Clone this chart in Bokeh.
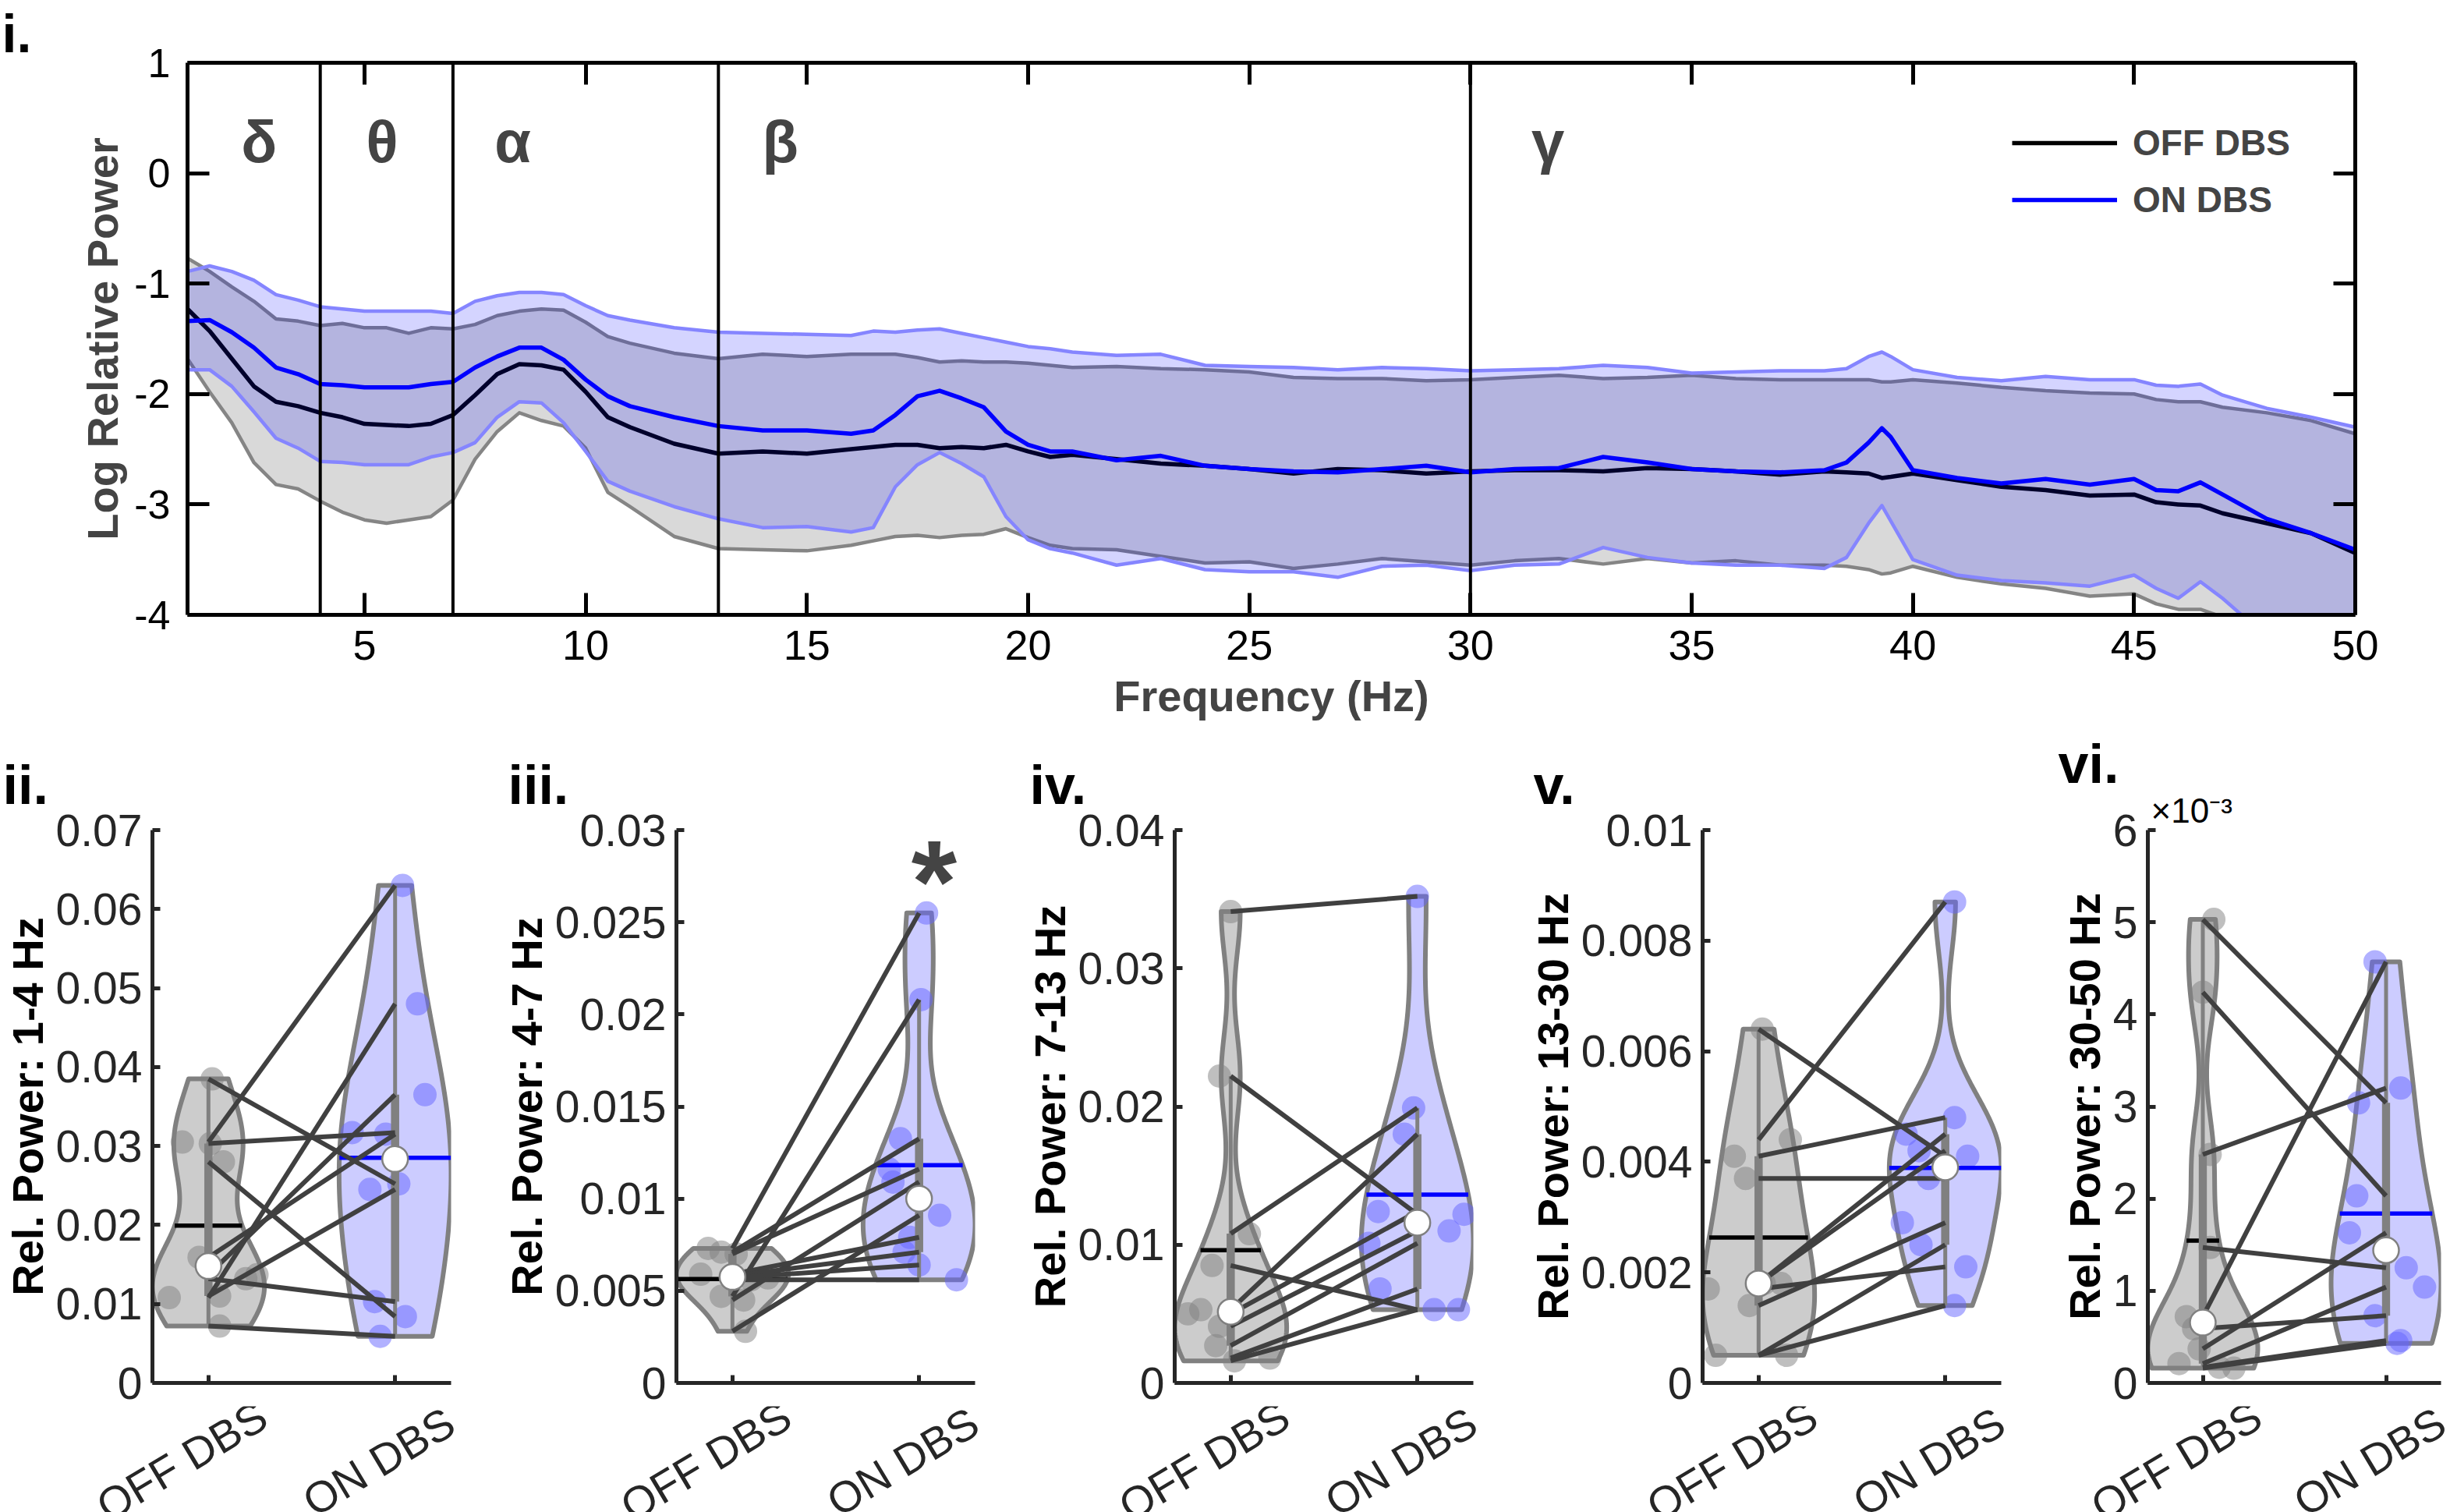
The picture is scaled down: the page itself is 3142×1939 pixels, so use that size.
import numpy as np
from bokeh.plotting import figure
from bokeh.models import Range1d, LinearAxis, FixedTicker, Label, Legend, LegendItem, Span, Title
from bokeh.core.properties import value
from bokeh.layouts import column, row
from bokeh.embed import file_html
from bokeh.resources import INLINE

FONT = "Liberation Sans"
INK = "#262626"

# ---------------- panel i: spectra ----------------
freq = [1.0, 1.5, 2.0, 2.5, 3.0, 3.5, 4.0, 4.5, 5.0, 5.5, 6.0, 6.5, 7.0, 7.5, 8.0, 8.5, 9.0, 9.5, 10.0, 10.5,
        11, 12, 13, 14, 15, 16, 16.5, 17, 17.5, 18, 18.5, 19, 19.5, 20, 20.5,
        21, 22, 23, 24, 25, 26, 27, 28, 29, 30,
        31, 32, 33, 34, 35, 36, 37, 38, 38.5, 39, 39.3, 39.5, 40,
        41, 42, 43, 44, 45, 45.5, 46, 46.5, 47, 48, 49, 50]

off_mean = [-1.23, -1.43, -1.68, -1.93, -2.07, -2.11, -2.17, -2.21, -2.27, -2.28, -2.29, -2.27, -2.19, -2.01, -1.82, -1.73, -1.74, -1.78, -1.98, -2.21,
            -2.30, -2.45, -2.54, -2.52, -2.54, -2.50, -2.48, -2.46, -2.46, -2.49, -2.48, -2.49, -2.46, -2.52, -2.57,
            -2.55, -2.59, -2.63, -2.65, -2.68, -2.72, -2.68, -2.69, -2.72, -2.70,
            -2.69, -2.69, -2.70, -2.67, -2.68, -2.70, -2.73, -2.70, -2.71, -2.72, -2.76, -2.75, -2.72,
            -2.78, -2.84, -2.87, -2.92, -2.91, -2.98, -3.00, -3.01, -3.08, -3.17, -3.26, -3.44]
on_mean = [-1.34, -1.33, -1.44, -1.58, -1.76, -1.82, -1.91, -1.92, -1.94, -1.94, -1.94, -1.91, -1.89, -1.76, -1.66, -1.58, -1.58, -1.69, -1.87, -2.02,
           -2.11, -2.21, -2.29, -2.33, -2.33, -2.36, -2.33, -2.19, -2.02, -1.97, -2.04, -2.12, -2.34, -2.46, -2.52,
           -2.52, -2.60, -2.56, -2.65, -2.68, -2.70, -2.71, -2.68, -2.65, -2.71,
           -2.68, -2.67, -2.57, -2.62, -2.68, -2.70, -2.71, -2.69, -2.62, -2.44, -2.31, -2.39, -2.69,
           -2.76, -2.81, -2.77, -2.82, -2.77, -2.87, -2.88, -2.80, -2.91, -3.13, -3.26, -3.41]
off_upper = [-0.77, -0.89, -1.03, -1.16, -1.32, -1.34, -1.38, -1.36, -1.40, -1.40, -1.45, -1.40, -1.41, -1.37, -1.29, -1.25, -1.23, -1.24, -1.35, -1.48,
             -1.54, -1.63, -1.68, -1.64, -1.66, -1.64, -1.64, -1.64, -1.67, -1.71, -1.70, -1.71, -1.71, -1.72, -1.74,
             -1.76, -1.75, -1.77, -1.78, -1.80, -1.85, -1.86, -1.86, -1.88, -1.87,
             -1.85, -1.83, -1.86, -1.85, -1.83, -1.86, -1.87, -1.87, -1.87, -1.87, -1.89, -1.89, -1.87,
             -1.90, -1.94, -1.97, -1.99, -2.00, -2.05, -2.07, -2.07, -2.12, -2.17, -2.24, -2.36]
off_lower = [-1.68, -1.98, -2.26, -2.62, -2.82, -2.86, -2.97, -3.07, -3.14, -3.17, -3.14, -3.11, -2.96, -2.59, -2.34, -2.17, -2.24, -2.29, -2.49, -2.89,
             -3.02, -3.29, -3.40, -3.41, -3.42, -3.37, -3.33, -3.29, -3.28, -3.30, -3.28, -3.27, -3.22, -3.30, -3.37,
             -3.40, -3.41, -3.47, -3.53, -3.52, -3.58, -3.54, -3.49, -3.52, -3.55,
             -3.51, -3.49, -3.54, -3.49, -3.53, -3.51, -3.55, -3.55, -3.56, -3.59, -3.63, -3.62, -3.56,
             -3.66, -3.72, -3.76, -3.83, -3.81, -3.90, -3.95, -3.95, -4.02, -4.12, -4.22, -4.32]
on_upper = [-0.89, -0.84, -0.89, -0.97, -1.10, -1.15, -1.21, -1.23, -1.25, -1.25, -1.25, -1.25, -1.27, -1.16, -1.11, -1.08, -1.08, -1.10, -1.20, -1.29,
            -1.33, -1.40, -1.44, -1.45, -1.46, -1.47, -1.43, -1.44, -1.42, -1.41, -1.45, -1.49, -1.53, -1.57, -1.59,
            -1.62, -1.65, -1.64, -1.74, -1.75, -1.76, -1.78, -1.76, -1.77, -1.79,
            -1.78, -1.77, -1.74, -1.76, -1.81, -1.80, -1.79, -1.79, -1.77, -1.66, -1.62, -1.66, -1.78,
            -1.85, -1.88, -1.84, -1.87, -1.87, -1.92, -1.93, -1.91, -2.01, -2.13, -2.21, -2.30]
on_lower = [-1.78, -1.78, -1.93, -2.16, -2.40, -2.49, -2.61, -2.62, -2.64, -2.64, -2.64, -2.57, -2.53, -2.44, -2.21, -2.07, -2.08, -2.26, -2.52, -2.79,
            -2.88, -3.02, -3.13, -3.21, -3.20, -3.25, -3.21, -2.84, -2.64, -2.53, -2.63, -2.75, -3.11, -3.32, -3.40,
            -3.44, -3.55, -3.49, -3.59, -3.61, -3.61, -3.66, -3.56, -3.55, -3.60,
            -3.55, -3.54, -3.39, -3.48, -3.53, -3.55, -3.55, -3.58, -3.48, -3.17, -3.01, -3.15, -3.50,
            -3.64, -3.69, -3.71, -3.74, -3.64, -3.76, -3.85, -3.70, -3.85, -4.20, -4.40, -4.50]

top_xticks = [5, 10, 15, 20, 25, 30, 35, 40, 45, 50]
top_yticks = [-4, -3, -2, -1, 0, 1]
top_yticklabels = ["-4", "-3", "-2", "-1", "0", "1"]
band_edges = [4, 7, 13, 30]
band_names = ["δ", "θ", "α", "β", "γ"]
band_name_x = [2.62, 5.40, 8.35, 14.4, 31.75]
series_names = ["OFF DBS", "ON DBS"]

# ---------------- panels ii-vi: band power per subject (OFF, ON paired) ----------------
groups = ["OFF DBS", "ON DBS"]

ii_off = [0.0385, 0.0305, 0.0303, 0.0280, 0.0159, 0.0137, 0.0132, 0.0110, 0.0108, 0.0072]
ii_on = [0.0252, 0.0630, 0.0317, 0.0084, 0.0315, 0.0365, 0.0103, 0.0245, 0.0480, 0.0059]
ii_off_jit = [0.02, -0.14, 0.01, 0.08, -0.05, 0.26, 0.20, 0.06, -0.21, 0.06]
ii_on_jit = [0.02, 0.04, -0.23, 0.055, -0.05, 0.16, -0.11, -0.135, 0.12, -0.08]
ii_ticks = [0, 0.01, 0.02, 0.03, 0.04, 0.05, 0.06, 0.07]
ii_ticklabels = ["0", "0.01", "0.02", "0.03", "0.04", "0.05", "0.06", "0.07"]

iii_off = [0.0073, 0.0047, 0.0071, 0.0070, 0.0045, 0.0028, 0.0059, 0.0058, 0.0057, 0.0056]
iii_on = [0.0255, 0.0208, 0.01325, 0.0116, 0.0109, 0.0091, 0.0079, 0.0071, 0.0064, 0.0056]
iii_off_jit = [-0.13, -0.06, -0.06, 0.02, 0.06, 0.07, -0.17, 0.0, 0.19, 0.10]
iii_on_jit = [0.04, 0.01, -0.10, -0.16, -0.14, 0.11, -0.05, -0.08, 0.0, 0.20]
iii_ticks = [0, 0.005, 0.01, 0.015, 0.02, 0.025, 0.03]
iii_ticklabels = ["0", "0.005", "0.01", "0.015", "0.02", "0.025", "0.03"]

iv_off = [0.0341, 0.0222, 0.0108, 0.0085, 0.0053, 0.0050, 0.0041, 0.0027, 0.0018, 0.0016]
iv_on = [0.0352, 0.0122, 0.0199, 0.0053, 0.0180, 0.0124, 0.0110, 0.0101, 0.0068, 0.0053]
iv_off_jit = [0.0, -0.06, 0.10, -0.10, -0.16, -0.23, -0.06, -0.08, 0.21, 0.02]
iv_on_jit = [0.0, 0.25, -0.02, 0.22, -0.07, -0.21, 0.17, -0.26, -0.20, 0.09]
iv_ticks = [0, 0.01, 0.02, 0.03, 0.04]
iv_ticklabels = ["0", "0.01", "0.02", "0.03", "0.04"]

v_off = [0.0064, 0.0044, 0.0041, 0.0037, 0.0018, 0.0018, 0.0017, 0.0014, 0.0005, 0.0005]
v_on = [0.0041, 0.0087, 0.0048, 0.0037, 0.0045, 0.0042, 0.0021, 0.0029, 0.0025, 0.0014]
v_off_jit = [0.02, 0.17, -0.13, -0.07, 0.03, 0.12, -0.27, -0.05, -0.23, 0.15]
v_on_jit = [0.12, 0.05, 0.05, -0.09, -0.21, -0.14, 0.11, -0.23, -0.13, 0.05]
v_ticks = [0, 0.002, 0.004, 0.006, 0.008, 0.01]
v_ticklabels = ["0", "0.002", "0.004", "0.006", "0.008", "0.01"]

vi_off = [0.00503, 0.00424, 0.00248, 0.00147, 0.00072, 0.00059, 0.00037, 0.00021, 0.00017, 0.00016]
vi_on = [0.00304, 0.00203, 0.00320, 0.00125, 0.00457, 0.00073, 0.00163, 0.00104, 0.00046, 0.00043]
vi_off_jit = [0.06, 0.0, 0.04, 0.04, -0.09, -0.05, -0.02, -0.13, 0.09, 0.17]
vi_on_jit = [-0.15, -0.16, 0.08, 0.11, -0.06, -0.06, -0.20, 0.21, 0.08, 0.06]
vi_ticks = [0, 0.001, 0.002, 0.003, 0.004, 0.005, 0.006]
vi_ticklabels = ["0", "1", "2", "3", "4", "5", "6"]


# ---------------- helpers ----------------
def mquantile(v, p):
    s = np.sort(np.asarray(v, float))
    n = len(s)
    pos = n * p + 0.5
    if pos <= 1:
        return s[0]
    if pos >= n:
        return s[-1]
    lo = int(np.floor(pos))
    fr = pos - lo
    return s[lo - 1] + fr * (s[lo] - s[lo - 1])


def violin_shape(vals, width=0.3):
    v = np.asarray(vals, float)
    n = len(v)
    sig = np.median(np.abs(v - np.median(v))) / 0.6745
    if sig <= 0:
        sig = np.std(v)
    bw = sig * (4.0 / (3.0 * n)) ** 0.2
    ys = np.linspace(v.min(), v.max(), 240)
    dens = np.exp(-0.5 * ((ys[:, None] - v[None, :]) / bw) ** 2).sum(axis=1)
    return ys, width * dens / dens.max()


def style_axis(ax, ticks, font_size, tick_in, lw, color="black", standoff=10, show=True):
    ax.ticker = FixedTicker(ticks=ticks)
    ax.axis_line_color = color
    ax.axis_line_width = lw
    ax.major_tick_line_color = color
    ax.major_tick_line_width = lw
    ax.major_tick_in = tick_in
    ax.major_tick_out = 0
    ax.minor_tick_line_color = None
    ax.major_label_text_font = FONT
    ax.major_label_text_color = color
    ax.major_label_text_font_size = font_size if show else "0px"
    ax.major_label_standoff = standoff if show else 0


def tag_title(text, offset, standoff, size="70px", style="bold"):
    return Title(text=text, align="left", offset=offset, standoff=standoff, text_font=FONT,
                 text_font_style=style, text_font_size=size, text_color="black")


# ---------------- top figure ----------------
top = figure(frame_width=2780, frame_height=708, x_range=Range1d(1, 50), y_range=Range1d(-4, 1),
             output_backend="svg", toolbar_location=None,
             min_border_left=240, min_border_right=100, min_border_top=80, min_border_bottom=158)
top.outline_line_color = None
top.grid.visible = False

top.varea(x=freq, y1=off_lower, y2=off_upper, fill_color="black", fill_alpha=0.15)
top.line(freq, off_upper, line_color="#858585", line_width=4.5, line_join="round")
top.line(freq, off_lower, line_color="#858585", line_width=4.5, line_join="round")
r_off = top.line(freq, off_mean, line_color="black", line_width=5.5, line_join="round")
top.varea(x=freq, y1=on_lower, y2=on_upper, fill_color="#0000ff", fill_alpha=0.17)
top.line(freq, on_upper, line_color="#8585ff", line_width=4.5, line_join="round")
top.line(freq, on_lower, line_color="#8585ff", line_width=4.5, line_join="round")
r_on = top.line(freq, on_mean, line_color="#0000ff", line_width=5.5, line_join="round")

for e in band_edges:
    top.add_layout(Span(location=e, dimension="height", line_color="black", line_width=4))
for nm, bx in zip(band_names, band_name_x):
    top.add_layout(Label(x=bx, y=0.29, text=nm, text_font=FONT, text_font_style="bold",
                         text_font_size="76px", text_align="center", text_baseline="alphabetic"))

xa = top.xaxis[0]
style_axis(xa, top_xticks, "54px", 28, 5, "black", standoff=20)
xa.axis_label = "Frequency (Hz)"
xa.axis_label_text_font = FONT
xa.axis_label_text_font_style = "bold"
xa.axis_label_text_font_size = "56px"
xa.axis_label_standoff = 12
ya = top.yaxis[0]
style_axis(ya, top_yticks, "52px", 28, 5, "black", standoff=22)
ya.major_label_overrides = {t: s for t, s in zip(top_yticks, top_yticklabels)}
ya.axis_label = "Log Relative Power"
ya.axis_label_text_font = FONT
ya.axis_label_text_font_style = "bold"
ya.axis_label_text_font_size = "56px"
ya.axis_label_standoff = 6
ax_top = LinearAxis()
style_axis(ax_top, top_xticks, "50px", 28, 5, "black", show=False)
top.add_layout(ax_top, "above")
ax_right = LinearAxis()
style_axis(ax_right, top_yticks, "50px", 28, 5, "black", show=False)
top.add_layout(ax_right, "right")
top.add_layout(tag_title("i.", -238, 0, size="68px"), "above")

legend = Legend(items=[LegendItem(label=series_names[0], renderers=[r_off]),
                       LegendItem(label=series_names[1], renderers=[r_on])],
                location=(2340, 505), border_line_color=None, background_fill_alpha=0,
                padding=0, margin=0, spacing=19, glyph_width=135, glyph_height=40, label_height=40,
                label_standoff=20, label_text_font=FONT, label_text_font_style="bold",
                label_text_font_size="46px")
top.add_layout(legend)

# ---------------- violin panels ----------------
FH = 709
PANEL_BOTTOM = 30
STRIP_H = 136
# centre of each rotated group name, relative to its tick (screen px) and from the strip bottom
NAME_DX = [-33, -20]
NAME_Y = [66, 65]


def violin_panel(off, on, off_jit, on_jit, ymax, ticks, ticklabels, ylab, tag, tag_off,
                 left, fw, right, extra_title=None, tag_standoff=38):
    p = figure(frame_width=fw, frame_height=FH, x_range=Range1d(0.7, 2.3), y_range=Range1d(0, ymax),
               output_backend="svg", toolbar_location=None,
               min_border_left=left, min_border_right=right, min_border_top=118,
               min_border_bottom=PANEL_BOTTOM)
    p.outline_line_color = None
    p.grid.visible = False

    specs = [(1.0, off, off_jit, "#808080", 0.4, "#808080", "black"),
             (2.0, on, on_jit, "#0000ff", 0.2, "#6464ff", "#0000ff")]
    for pos, vals, jit, fc, fa, pc, mc in specs:
        vals = np.asarray(vals, float)
        ys, half = violin_shape(vals)
        p.patch(x=list(pos - half) + list((pos + half)[::-1]), y=list(ys) + list(ys[::-1]),
                fill_color=fc, fill_alpha=fa, line_color="#808080", line_width=6, line_join="round")
        p.scatter(x=list(pos + np.asarray(jit)), y=list(vals), size=30, fill_color=pc, fill_alpha=0.5,
                  line_color=None)
        m = float(np.mean(vals))
        hw = float(np.interp(m, ys, half))
        p.line([pos - hw, pos + hw], [m, m], line_color=mc, line_width=5.5)
        q1, q3 = mquantile(vals, 0.25), mquantile(vals, 0.75)
        iqr = q3 - q1
        lo_lim, hi_lim = q1 - 1.5 * iqr, q3 + 1.5 * iqr
        lw_ = max(lo_lim, vals[vals >= lo_lim].min())
        hw_ = min(hi_lim, vals[vals <= hi_lim].max())
        p.segment(x0=[pos], y0=[lw_], x1=[pos], y1=[hw_], line_color="#808080", line_width=5)
        p.quad(left=[pos - 0.022], right=[pos + 0.022], bottom=[q1], top=[q3],
               fill_color="#808080", line_color=None)

    n = len(off)
    p.segment(x0=[1.0] * n, y0=off, x1=[2.0] * n, y1=on, line_color="#404040", line_width=6)
    p.scatter(x=[1.0, 2.0], y=[float(np.median(off)), float(np.median(on))], size=33,
              fill_color="white", line_color="#808080", line_width=2.5)

    ya = p.yaxis[0]
    style_axis(ya, ticks, "57px", 10, 5, INK, standoff=13)
    ya.major_label_overrides = {t: s for t, s in zip(ticks, ticklabels)}
    ya.axis_label = ylab
    ya.axis_label_text_font = FONT
    ya.axis_label_text_font_style = "bold"
    ya.axis_label_text_font_size = "56px"
    ya.axis_label_text_color = "black"
    ya.axis_label_standoff = 2
    xa = p.xaxis[0]
    style_axis(xa, [1, 2], "54px", 10, 5, INK, show=False)

    if extra_title is not None:
        p.add_layout(extra_title, "above")
    p.add_layout(tag_title(tag, tag_off, tag_standoff), "above")

    # strip below the panel carrying the rotated group names, on the same x scale
    upx = 1.6 / fw
    s = figure(frame_width=left + fw + right, frame_height=STRIP_H,
               x_range=Range1d(0.7 - left * upx, 2.3 + right * upx),
               y_range=Range1d(0, STRIP_H), output_backend="svg", toolbar_location=None,
               min_border_left=0, min_border_right=0, min_border_top=0, min_border_bottom=0,
               x_axis_location=None, y_axis_location=None)
    s.outline_line_color = None
    s.grid.visible = False
    s.text(x=[1.0 + NAME_DX[0] * upx, 2.0 + NAME_DX[1] * upx], y=NAME_Y, text=groups,
           angle=31, angle_units="deg", text_align=value("center"), text_baseline=value("middle"),
           text_font=value(FONT), text_font_size=value("56px"), text_color=value(INK))
    return p, s


p2, s2 = violin_panel(ii_off, ii_on, ii_off_jit, ii_on_jit, 0.07, ii_ticks, ii_ticklabels,
                      "Rel. Power: 1-4 Hz", "ii.", -192, 194, 383, 42)
p3, s3 = violin_panel(iii_off, iii_on, iii_off_jit, iii_on_jit, 0.03, iii_ticks, iii_ticklabels,
                      "Rel. Power: 4-7 Hz", "iii.", -216, 247, 383, 31)
p3.add_layout(Label(x=2.08, y=0.0272, text="*", text_font=FONT, text_font_style="bold",
                    text_font_size="150px", text_align="center", text_baseline="alphabetic"))
p4, s4 = violin_panel(iv_off, iv_on, iv_off_jit, iv_on_jit, 0.04, iv_ticks, iv_ticklabels,
                      "Rel. Power: 7-13 Hz", "iv.", -186, 225, 383, 31)
p5, s5 = violin_panel(v_off, v_on, v_off_jit, v_on_jit, 0.01, v_ticks, v_ticklabels,
                      "Rel. Power: 13-30 Hz", "v.", -217, 263, 383, 25)
p6, s6 = violin_panel(vi_off, vi_on, vi_off_jit, vi_on_jit, 0.006, vi_ticks, vi_ticklabels,
                      "Rel. Power: 30-50 Hz", "vi.", -115, 163, 376, 6,
                      extra_title=tag_title("×10⁻³", 4, 2, size="44px", style="normal"),
                      tag_standoff=-15)

layout = column(top, row(p2, p3, p4, p5, p6), row(s2, s3, s4, s5, s6))
open("out.html", "w").write(file_html(layout, INLINE))
